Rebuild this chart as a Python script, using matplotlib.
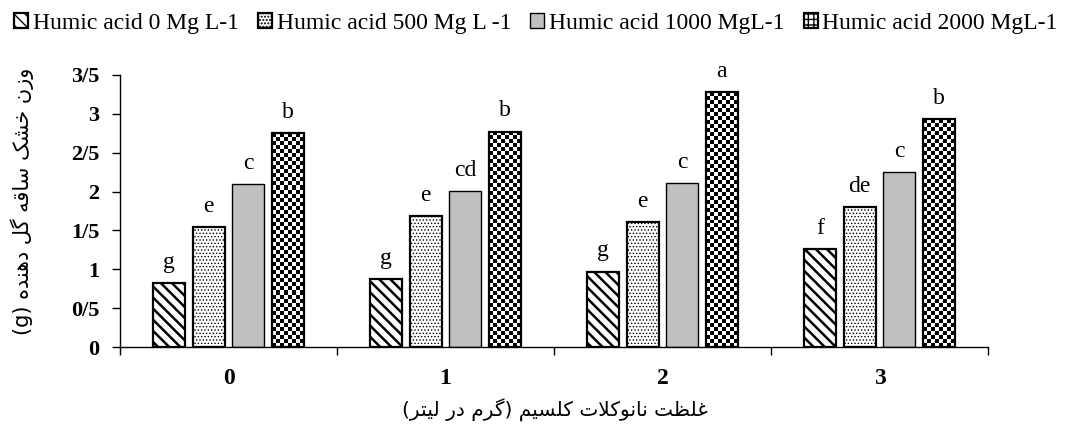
import numpy as np
import matplotlib
matplotlib.use("Agg")
import matplotlib.pyplot as plt
from matplotlib.patches import Patch

plt.rcParams['font.family'] = ['Liberation Serif', 'DejaVu Sans']

# داده‌ها
categories = ['0', '1', '2', '3']
series_names = ['Humic acid 0 Mg L-1', 'Humic acid 500 Mg L -1',
                'Humic acid 1000 MgL-1', 'Humic acid 2000 MgL-1']
humic_0 = [0.82, 0.87, 0.97, 1.26]
humic_500 = [1.54, 1.68, 1.61, 1.80]
humic_1000 = [2.10, 2.01, 2.11, 2.25]
humic_2000 = [2.75, 2.77, 3.28, 2.93]
letters_0 = ['g', 'g', 'g', 'f']
letters_500 = ['e', 'e', 'e', 'de']
letters_1000 = ['c', 'cd', 'c', 'c']
letters_2000 = ['b', 'b', 'a', 'b']
yticks = [0, 0.5, 1, 1.5, 2, 2.5, 3, 3.5]
ytick_labels = ['0', '0/5', '1', '1/5', '2', '2/5', '3', '3/5']
ylabel = 'وزن خشک ساقه گل دهنده (g)'
xlabel = 'غلظت نانوکلات کلسیم (گرم در لیتر)'

# شکل‌دهی ساده حروف فارسی (matplotlib خودش این کار را نمی‌کند)
FORMS = {
    'ا': ('\uFE8D', '\uFE8E', None, None),
    'ت': ('\uFE95', '\uFE96', '\uFE97', '\uFE98'),
    'خ': ('\uFEA5', '\uFEA6', '\uFEA7', '\uFEA8'),
    'د': ('\uFEA9', '\uFEAA', None, None),
    'ر': ('\uFEAD', '\uFEAE', None, None),
    'ز': ('\uFEAF', '\uFEB0', None, None),
    'س': ('\uFEB1', '\uFEB2', '\uFEB3', '\uFEB4'),
    'ش': ('\uFEB5', '\uFEB6', '\uFEB7', '\uFEB8'),
    'ظ': ('\uFEC5', '\uFEC6', '\uFEC7', '\uFEC8'),
    'غ': ('\uFECD', '\uFECE', '\uFECF', '\uFED0'),
    'ق': ('\uFED5', '\uFED6', '\uFED7', '\uFED8'),
    'ل': ('\uFEDD', '\uFEDE', '\uFEDF', '\uFEE0'),
    'م': ('\uFEE1', '\uFEE2', '\uFEE3', '\uFEE4'),
    'ن': ('\uFEE5', '\uFEE6', '\uFEE7', '\uFEE8'),
    'ه': ('\uFEE9', '\uFEEA', '\uFEEB', '\uFEEC'),
    'و': ('\uFEED', '\uFEEE', None, None),
    'ک': ('\uFB8E', '\uFB8F', '\uFB90', '\uFB91'),
    'گ': ('\uFB92', '\uFB93', '\uFB94', '\uFB95'),
    'ی': ('\uFBFC', '\uFBFD', '\uFBFE', '\uFBFF'),
}
RIGHT_ONLY = set('ادذرزژو')


def fa(text):
    ch = list(text)
    out = []
    i = 0
    while i < len(ch):
        c = ch[i]
        if c not in FORMS:
            out.append(c)
            i += 1
            continue
        prev = ch[i - 1] if i > 0 else ''
        pj = prev in FORMS and prev not in RIGHT_ONLY
        if c == 'ل' and i + 1 < len(ch) and ch[i + 1] == 'ا':
            out.append('\uFEFC' if pj else '\uFEFB')
            i += 2
            continue
        nxt = ch[i + 1] if i + 1 < len(ch) else ''
        nj = nxt in FORMS and c not in RIGHT_ONLY
        iso, fin, ini, med = FORMS[c]
        if pj and nj:
            out.append(med)
        elif pj:
            out.append(fin)
        elif nj:
            out.append(ini)
        else:
            out.append(iso)
        i += 1
    mirror = {'(': ')', ')': '('}
    return ''.join(mirror.get(c, c) for c in reversed(out))


fig = plt.figure(figsize=(10.67, 4.33), dpi=100)
ax = fig.add_axes([0.1125, 0.1986, 0.8135, 0.6282])

x = np.arange(len(categories))
w = 0.147
step = 0.182

b1 = ax.bar(x - 1.5 * step, humic_0, w, facecolor='white', edgecolor='black',
            linewidth=1.6, hatch='\\\\\\')
b2 = ax.bar(x - 0.5 * step, humic_500, w, facecolor='white', edgecolor='black',
            linewidth=1.6, hatch='.....')
b3 = ax.bar(x + 0.5 * step, humic_1000, w, facecolor='#c0c0c0', edgecolor='black',
            linewidth=1.0)
b4 = ax.bar(x + 1.5 * step, humic_2000, w, facecolor='none', edgecolor='black',
            linewidth=1.6, zorder=3)
for p in b1:
    try:
        p.set_hatch_linewidth(1.8)
    except AttributeError:
        pass
for p in b2:
    try:
        p.set_hatch_linewidth(0.6)
    except AttributeError:
        pass

ax.set_xlim(-0.5, 3.5)
ax.set_ylim(0, 3.5)

# شطرنجی برای سری آخر
px_x = ax.bbox.width / 4.0
px_y = ax.bbox.height / 3.5
cell = 4.0
for p in b4:
    x0, wd, ht = p.get_x(), p.get_width(), p.get_height()
    nx = max(1, int(round(wd * px_x / cell)))
    ny = max(1, int(round(ht * px_y / cell)))
    board = np.add.outer(np.arange(ny), np.arange(nx)) % 2
    im = ax.imshow(board, cmap='gray', vmin=0, vmax=1, extent=(x0, x0 + wd, 0, ht),
                   origin='lower', aspect='auto', interpolation='nearest', zorder=2)
    im.set_clip_path(p)
ax.set_xlim(-0.5, 3.5)
ax.set_ylim(0, 3.5)

for bars, labs in [(b1, letters_0), (b2, letters_500), (b3, letters_1000), (b4, letters_2000)]:
    for p, lab in zip(bars, labs):
        ax.annotate(lab, (p.get_x() + p.get_width() / 2, p.get_height()),
                    xytext=(0, 11), textcoords='offset points', ha='center',
                    va='baseline', fontsize=17)

ax.spines['top'].set_visible(False)
ax.spines['right'].set_visible(False)
ax.spines['left'].set_linewidth(1.0)
ax.spines['bottom'].set_linewidth(1.0)

ax.set_yticks(yticks)
ax.set_yticklabels(ytick_labels, fontsize=16, fontweight='bold')
ax.tick_params(axis='y', direction='out', length=6, width=1, pad=9)
ax.set_xticks(x)
ax.set_xticklabels(categories, fontsize=17, fontweight='bold')
ax.set_xticks(np.arange(-0.5, 4.0, 1.0), minor=True)
ax.tick_params(axis='x', which='major', length=0, pad=15)
ax.tick_params(axis='x', which='minor', direction='out', length=6, width=1)

fig.text(22 / 1067, 1 - 201 / 433, fa(ylabel), rotation=90, ha='center', va='center',
         fontsize=15, family=['DejaVu Sans'])
fig.text(555 / 1067, 1 - 410 / 433, fa(xlabel), ha='center', va='center',
         fontsize=14.5, family=['DejaVu Sans'])

h4 = Patch(facecolor='white', edgecolor='black', hatch='+++', linewidth=1.6)
fig.legend([b1[0], b2[0], b3[0], h4], series_names, ncol=4, loc='center',
           bbox_to_anchor=(536 / 1067, 1 - 23 / 433), frameon=False, fontsize=17,
           handlelength=0.6, handleheight=0.6, handletextpad=0.2,
           columnspacing=0.8, borderaxespad=0)

fig.savefig('out.png', dpi=100)
